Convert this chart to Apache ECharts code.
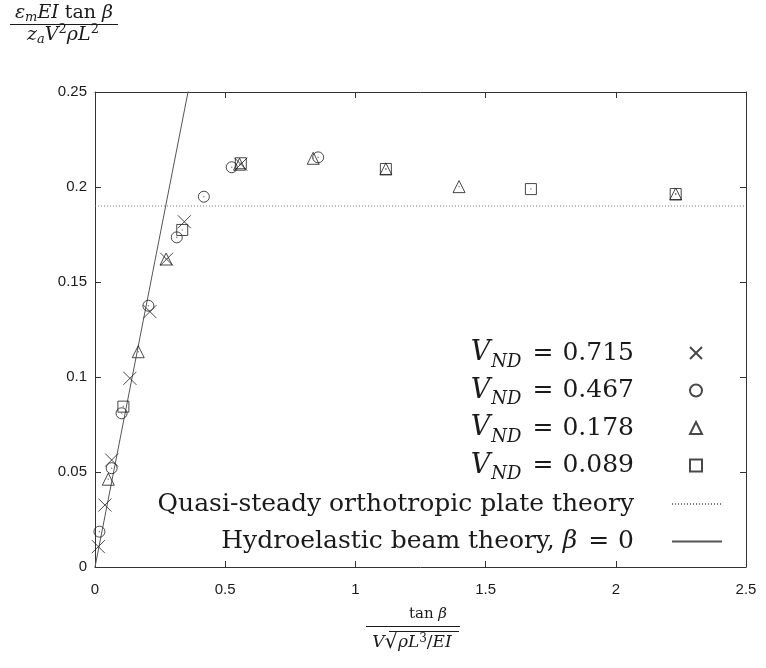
<!DOCTYPE html>
<html><head><meta charset="utf-8">
<script src="https://cdn.jsdelivr.net/npm/echarts@6/dist/echarts.min.js"></script>
<style>html,body{margin:0;padding:0;background:#fff}#c{width:766px;height:668px}</style>
</head><body><div id="c"></div>
<script>
// ---- data ----
const xTicks = [0, 0.5, 1, 1.5, 2, 2.5];
const yTicks = [0, 0.05, 0.1, 0.15, 0.2, 0.25];
const seriesLabels = ['0.715', '0.467', '0.178', '0.089'];
const v715 = [[0.013,0.0107],[0.038,0.0326],[0.064,0.0563],[0.134,0.0993],[0.211,0.1344],[0.275,0.162],[0.343,0.1817],[0.56,0.212]];
const v467 = [[0.017,0.0186],[0.064,0.052],[0.102,0.0809],[0.205,0.1375],[0.314,0.1735],[0.418,0.1949],[0.525,0.2104],[0.857,0.2156]];
const v178 = [[0.051,0.0462],[0.166,0.1133],[0.273,0.1621],[0.555,0.212],[0.838,0.2151],[1.117,0.2095],[1.398,0.2002],[2.23,0.1963]];
const v089 = [[0.109,0.0844],[0.335,0.1774],[0.56,0.2125],[1.117,0.2095],[1.674,0.1989],[2.23,0.1963]];
const quasiSteady = [[0, 0.19], [2.5, 0.19]];
const beamTheory = [[0, 0], [0.4, 0.28]];

const SERIF = "'DejaVu Serif', 'Liberation Serif', serif";
const SANS = "'Liberation Sans', Arial, sans-serif";
const INK = '#1a1a1a';

const names = seriesLabels.map(v => 'V_ND = ' + v);
const nameQuasi = 'Quasi-steady orthotropic plate theory';
const nameBeam = 'Hydroelastic beam theory';

const crossPath = 'path://M0,0L10,10M10,0L0,10';
const symbols = [crossPath, 'circle', 'triangle', 'rect'];
const sizes = [13, 11, 12, 11];
const datasets = [v715, v467, v178, v089];

const markerStyle = {color: 'rgba(0,0,0,0)', borderColor: INK, borderWidth: 1};

const scatterSeries = datasets.map((d, i) => ({
  name: names[i],
  type: 'scatter',
  data: d,
  symbol: symbols[i],
  symbolSize: sizes[i],
  itemStyle: markerStyle,
  z: 5,
  emphasis: {disabled: true}
}));
// gnuplot-style centre dots for the hollow markers
const dotSeries = {
  name: 'dots', type: 'scatter', data: v467.concat(v178, v089), symbol: 'circle', symbolSize: 1.6,
  itemStyle: {color: '#666'}, z: 6, emphasis: {disabled: true}, silent: true
};

const axisLineStyle = {show: true, onZero: false, lineStyle: {color: '#333', width: 1}};
const tickStyle = {show: true, inside: true, length: 6, lineStyle: {color: '#333', width: 1}};

const FS = 25;
const richLeg = {
  v: {fontFamily: SERIF, fontStyle: 'italic', fontSize: 27, lineHeight: 32, verticalAlign: 'middle', color: INK},
  s: {fontFamily: SERIF, fontStyle: 'italic', fontSize: 18, lineHeight: 18, padding: [18, 0, 0, 1], verticalAlign: 'middle', color: INK},
  e: {fontFamily: SERIF, fontSize: FS, lineHeight: 32, padding: [0, 9, 0, 11], verticalAlign: 'middle', color: INK},
  n: {fontFamily: SERIF, fontSize: FS, lineHeight: 32, verticalAlign: 'middle', color: INK},
  b: {fontFamily: SERIF, fontStyle: 'italic', fontSize: FS, lineHeight: 32, verticalAlign: 'middle', color: INK},
  g1: {fontSize: FS, lineHeight: 32, width: 51, verticalAlign: 'middle'},
  g2: {fontSize: FS, lineHeight: 32, width: 33, verticalAlign: 'middle'}
};

function legendFor(name, center, isLine, tall) {
  const h = tall ? 36 : 23;
  return {
    orient: 'vertical',
    align: 'right',
    right: isLine ? 43 : 63,
    top: center - h / 2,
    padding: 0,
    itemWidth: isLine ? 50 : 12,
    itemHeight: 12,
    selectedMode: false,
    data: isLine ? [{name: name, itemStyle: {color: 'rgba(0,0,0,0)', borderWidth: 0}}] : [{name: name}],
    formatter: function (nm) {
      if (nm.indexOf('V_ND') === 0) {
        return '{v|V}{s|ND}{e|=}{n|' + nm.slice(7) + '}{g1|}';
      }
      if (nm === nameBeam) {
        return '{n|Hydroelastic beam theory, }{b|β}{e|=}{n|0}{g2|}';
      }
      return '{n|' + nm + '}{g2|}';
    },
    textStyle: {rich: richLeg, color: INK}
  };
}
const legendCenters = [353, 390.5, 428, 465.5, 503, 540.5];
const legends = names.map((n, i) => legendFor(n, legendCenters[i], false, true))
  .concat([legendFor(nameQuasi, legendCenters[4], true, false), legendFor(nameBeam, legendCenters[5], true, false)]);

const richTitle = (F) => ({
  i: {fontFamily: SERIF, fontStyle: 'italic', fontSize: F, lineHeight: F + 4, verticalAlign: 'middle', fill: INK},
  r: {fontFamily: SERIF, fontSize: F, lineHeight: F + 4, verticalAlign: 'middle', fill: INK},
  R: {fontFamily: SERIF, fontSize: F + 4, lineHeight: F + 4, verticalAlign: 'middle', fill: INK},
  s: {fontFamily: SERIF, fontStyle: 'italic', fontSize: Math.round(F * 0.68), lineHeight: Math.round(F * 0.68), padding: [Math.round(F * 0.5), 0, 0, 0], verticalAlign: 'middle', fill: INK},
  p: {fontFamily: SERIF, fontSize: Math.round(F * 0.68), lineHeight: Math.round(F * 0.68), padding: [0, 0, Math.round(F * 0.5), 0], verticalAlign: 'middle', fill: INK}
});
const rtY = richTitle(19);
const rtXn = richTitle(15);
const rtXd = richTitle(17);

const chart = echarts.init(document.getElementById('c'), null, {renderer: 'canvas'});
chart.setOption({
  animation: false,
  backgroundColor: '#fff',
  grid: {left: 95, right: 20, top: 92, bottom: 101, containLabel: false},
  xAxis: [
    {type: 'value', min: xTicks[0], max: xTicks[xTicks.length - 1], interval: xTicks[1] - xTicks[0], position: 'bottom',
     axisLine: axisLineStyle, axisTick: tickStyle, splitLine: {show: false},
     axisLabel: {fontFamily: SANS, fontSize: 15, color: INK, margin: 15}},
    {type: 'value', min: xTicks[0], max: xTicks[xTicks.length - 1], interval: xTicks[1] - xTicks[0], position: 'top',
     axisLine: axisLineStyle, axisTick: tickStyle, splitLine: {show: false}, axisLabel: {show: false}}
  ],
  yAxis: [
    {type: 'value', min: yTicks[0], max: yTicks[yTicks.length - 1], interval: yTicks[1] - yTicks[0], position: 'left',
     axisLine: axisLineStyle, axisTick: tickStyle, splitLine: {show: false},
     axisLabel: {fontFamily: SANS, fontSize: 15, color: INK, margin: 8}},
    {type: 'value', min: yTicks[0], max: yTicks[yTicks.length - 1], interval: yTicks[1] - yTicks[0], position: 'right',
     axisLine: axisLineStyle, axisTick: tickStyle, splitLine: {show: false}, axisLabel: {show: false}}
  ],
  legend: legends,
  series: [
    {name: nameQuasi, type: 'line', data: quasiSteady, symbol: 'none', showSymbol: false, clip: true,
     itemStyle: {color: 'rgba(0,0,0,0)'},
     lineStyle: {color: '#777', width: 1, type: [1, 2]}, z: 2, emphasis: {disabled: true}},
    {name: nameBeam, type: 'line', data: beamTheory, symbol: 'none', showSymbol: false, clip: true,
     itemStyle: {color: 'rgba(0,0,0,0)'},
     lineStyle: {color: '#555', width: 1}, z: 2, emphasis: {disabled: true}}
  ].concat(scatterSeries, [dotSeries]),
  graphic: [
    {type: 'text', x: 64, y: 13, style: {text: '{i|ε}{s|m}{i|EI}{r| tan }{i|β}', rich: rtY, fill: INK, align: 'center', verticalAlign: 'middle'}},
    {type: 'line', shape: {x1: 10, y1: 24.5, x2: 118, y2: 24.5}, style: {stroke: INK, lineWidth: 1}},
    {type: 'text', x: 63, y: 35, style: {text: '{i|z}{s|a}{i|V}{p|2}{i|ρL}{p|2}', rich: rtY, fill: INK, align: 'center', verticalAlign: 'middle'}},
    {type: 'text', x: 428, y: 614, style: {text: '{r|tan }{i|β}', rich: rtXn, fill: INK, align: 'center', verticalAlign: 'middle'}},
    {type: 'line', shape: {x1: 366, y1: 626.5, x2: 460, y2: 626.5}, style: {stroke: INK, lineWidth: 1}},
    {type: 'text', x: 412, y: 643, style: {text: '{i|V}{R|√}{i|ρL}{p|3}{r|/}{i|EI}', rich: rtXd, fill: INK, align: 'center', verticalAlign: 'middle'}},
    {type: 'line', shape: {x1: 389, y1: 631.5, x2: 459, y2: 631.5}, style: {stroke: INK, lineWidth: 1}}
  ]
});
</script></body></html>
